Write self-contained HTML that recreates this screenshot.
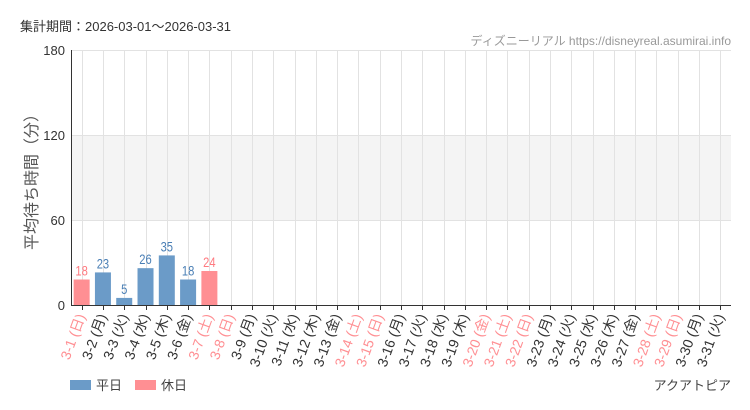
<!DOCTYPE html><html><head><meta charset="utf-8"><style>body{margin:0;background:#fff}svg{display:block;font-family:"Liberation Sans","Noto Sans CJK JP",sans-serif}</style></head><body>
<svg width="750" height="410" xmlns="http://www.w3.org/2000/svg">
<text x="20" y="31" font-size="13" fill="#333">集計期間：2026-03-01～2026-03-31</text>
<text x="731" y="45" font-size="12" fill="#999" text-anchor="end">ディズニーリアル https://disneyreal.asumirai.info</text>
<rect x="71" y="135" width="660" height="85" fill="#f4f4f4"/>
<g stroke="#e2e2e2" stroke-width="1">
<line x1="71" y1="50.5" x2="731" y2="50.5"/><line x1="71" y1="135.5" x2="731" y2="135.5"/><line x1="71" y1="220.5" x2="731" y2="220.5"/>
<g id="v"></g>
</g>
<text x="65" y="55" font-size="13" fill="#333" text-anchor="end">180</text>
<text x="65" y="140" font-size="13" fill="#333" text-anchor="end">120</text>
<text x="65" y="225" font-size="13" fill="#333" text-anchor="end">60</text>
<text x="65" y="310" font-size="13" fill="#333" text-anchor="end">0</text>
<text transform="translate(37,178) rotate(-90)" font-size="16" fill="#555" text-anchor="middle">平均待ち時間（分）</text>
<g id="bars"></g>
<line x1="71.5" y1="50" x2="71.5" y2="305" stroke="#333"/>
<line x1="71" y1="305.5" x2="731" y2="305.5" stroke="#333"/>
<g id="ticks"></g>
<rect x="70" y="380" width="21" height="10" fill="#6b9bc8"/><text x="96" y="390" font-size="13" fill="#444">平日</text>
<rect x="135" y="380" width="21" height="10" fill="#ff8f93"/><text x="161" y="390" font-size="13" fill="#444">休日</text>
<text x="731" y="390" font-size="13" fill="#444" text-anchor="end">アクアトピア</text>
</svg>
<script>
var ns="http://www.w3.org/2000/svg",s=document.querySelector('svg');
function el(t,a,p,txt){var e=document.createElementNS(ns,t);for(var k in a)e.setAttribute(k,a[k]);if(txt!=null)e.textContent=txt;(p||s).appendChild(e);return e;}
var wd=['日','月','火','水','木','金','土'],hol=[0,6,7,13,14,19,20,21,27,28];
var data=[18,23,5,26,35,18,24];
var step=660/31,v=document.getElementById('v'),b=document.getElementById('bars'),t=document.getElementById('ticks');
for(var i=0;i<31;i++){var cx=71+step*(i+0.5),xr=Math.round(cx)+0.5;
el('line',{x1:xr,y1:50,x2:xr,y2:305},v);
el('line',{x1:xr,y1:305,x2:xr,y2:310,stroke:'#333'},t);
var h=hol.indexOf(i)>=0,col=h?'#ff8f93':'#6b9bc8',tc=h?'#ff8f93':'#333';
if(i<7){var hh=data[i]*255/180;el('rect',{x:cx-8,y:305-hh,width:16,height:hh,fill:col},b);
el('text',{x:cx,y:305-hh-4,'font-size':14,fill:h?'#ff7a80':'#4a7fb5','text-anchor':'middle',transform:'translate('+cx+',0) scale(0.8,1) translate('+(-cx)+',0)'},b,data[i]);}
el('text',{transform:'translate('+(cx+4)+',316) rotate(-70)','font-size':14,fill:tc,'text-anchor':'end'},t,'3-'+(i+1)+' ('+wd[i%7]+')');}
</script>
</body></html>
